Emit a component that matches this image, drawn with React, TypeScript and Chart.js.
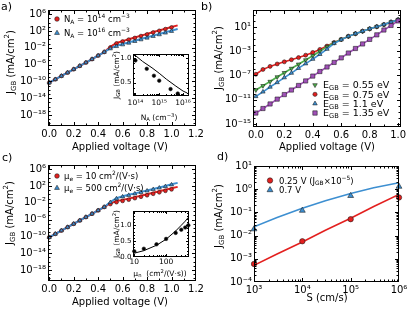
import React, { useEffect, useRef } from 'react';
import { Chart, registerables } from 'chart.js';

Chart.register(...registerables);

const FONT = '"DejaVu Sans", sans-serif';
const PAGE_W = 407;
const PAGE_H = 309;

const RED = '#e3201f';
const BLUE = '#3d8fd1';
const GREEN = '#4daf4a';
const PURPLE = '#a050b8';
const EDGE = 'rgba(25,25,25,0.8)';

// ---------------- data ----------------
// applied voltage (V) of the simulated points, and of the model lines
const voltage = [0, 0.05, 0.1, 0.15, 0.2, 0.25, 0.3, 0.35, 0.4, 0.45, 0.5, 0.55, 0.6, 0.65, 0.7, 0.75, 0.8, 0.85, 0.9, 0.95, 1.0];
const voltageLine = [0, 0.05, 0.1, 0.15, 0.2, 0.25, 0.3, 0.35, 0.4, 0.45, 0.5, 0.55, 0.6, 0.65, 0.7, 0.75, 0.8, 0.85, 0.9, 0.95, 1.0, 1.05];

// panel a: log10 of J_GB (mA/cm2)
const aNa14LineLog = [-10.3, -9.5, -8.7, -7.9, -7.1, -6.3, -5.5, -4.7, -3.85, -3.0, -1.75, -0.85, -0.4, 0.05, 0.45, 0.9, 1.3, 1.75, 2.15, 2.55, 2.95, 3.35];
const aNa16LineLog = [-10.3, -9.5, -8.7, -7.9, -7.1, -6.3, -5.5, -4.7, -3.85, -3.0, -2.1, -1.5, -1.1, -0.7, -0.3, 0.1, 0.5, 0.9, 1.3, 1.7, 2.1, 2.5];
const aNa14PtsLog = [-10.3, -9.5, -8.7, -7.9, -7.1, -6.3, -5.5, -4.7, -3.85, -3.0, -1.9, -0.95, -0.5, -0.05, 0.35, 0.8, 1.2, 1.65, 2.05, 2.45, 2.85];
const aNa16PtsLog = [-10.3, -9.5, -8.7, -7.9, -7.1, -6.3, -5.5, -4.7, -3.85, -3.0, -2.2, -1.65, -1.25, -0.85, -0.45, -0.05, 0.35, 0.75, 1.15, 1.55, 1.95];

// panel a inset
const aInsetNa = [1e14, 3e14, 6e14, 1e15, 3e15, 6e15];
const aInsetJ = [0.95, 0.78, 0.64, 0.54, 0.37, 0.28];
const aInsetCurveNa = [1e14, 2e14, 5e14, 1e15, 2e15, 5e15, 1e16, 1.5e16];
const aInsetCurveJ = [1.05, 0.93, 0.8, 0.69, 0.57, 0.43, 0.33, 0.29];

// panel b: log10 of J_GB (mA/cm2)
const bE055Log = [-9.4, -8.7, -8.0, -7.25, -6.55, -5.85, -5.15, -4.45, -3.75, -3.0, -2.25, -1.6, -1.05, -0.55, -0.1, 0.3, 0.7, 1.05, 1.4, 1.8, 2.2];
const bE075Log = [-6.8, -6.0, -5.5, -5.1, -4.75, -4.4, -4.05, -3.65, -3.2, -2.7, -2.15, -1.55, -1.05, -0.55, -0.1, 0.3, 0.7, 1.05, 1.4, 1.8, 2.2];
const bE110Log = [-10.45, -9.7, -8.9, -8.15, -7.35, -6.6, -5.8, -5.05, -4.3, -3.5, -2.65, -1.7, -1.1, -0.55, -0.1, 0.3, 0.7, 1.05, 1.4, 1.8, 2.2];
const bE135Log = [-13.2, -12.45, -11.7, -10.9, -10.15, -9.4, -8.65, -7.9, -7.1, -6.35, -5.6, -4.85, -4.1, -3.3, -2.55, -1.8, -1.05, -0.3, 0.5, 1.25, 2.0];

// panel c: log10 of J_GB (mA/cm2)
const cMu500LineLog = [-10.2, -9.4, -8.6, -7.8, -7.0, -6.2, -5.4, -4.6, -3.8, -3.0, -1.8, -0.9, -0.45, -0.1, 0.25, 0.6, 0.95, 1.3, 1.65, 2.0, 2.4, 2.75];
const cMu10LineLog = [-10.2, -9.4, -8.6, -7.8, -7.0, -6.2, -5.4, -4.6, -3.8, -3.0, -2.1, -1.6, -1.3, -1.0, -0.65, -0.3, 0.05, 0.4, 0.75, 1.1, 1.45, 1.8];
const cMu500PtsLog = [-10.2, -9.4, -8.6, -7.8, -7.0, -6.2, -5.4, -4.6, -3.8, -3.0, -1.9, -1.0, -0.55, -0.2, 0.15, 0.5, 0.85, 1.2, 1.55, 1.9, 2.3];
const cMu10PtsLog = [-10.2, -9.4, -8.6, -7.8, -7.0, -6.2, -5.4, -4.6, -3.8, -3.0, -2.3, -1.85, -1.55, -1.25, -0.9, -0.55, -0.2, 0.15, 0.5, 0.85, 1.2];

// panel c inset
const cInsetMu = [10, 20, 50, 100, 200, 300, 400, 500];
const cInsetJ = [0.18, 0.26, 0.4, 0.57, 0.76, 0.86, 0.93, 1.0];
const cInsetCurveMu = [10, 20, 50, 100, 200, 300, 400, 500];
const cInsetCurveJ = [0.12, 0.2, 0.37, 0.56, 0.82, 1.0, 1.13, 1.25];

// panel d
const dS = [1e3, 1e4, 1e5, 1e6];
const dJ025 = [6e-4, 5.7e-3, 0.051, 0.44];
const dJ070 = [0.019, 0.12, 0.52, 1.3];
const dLineS = [1e3, 3e3, 1e4, 3e4, 1e5, 3e5, 1e6];
const dLine025 = [5.2e-4, 1.6e-3, 5.3e-3, 1.7e-2, 5.6e-2, 0.18, 0.6];
const dLine070 = [0.024, 0.06, 0.15, 0.32, 0.65, 1.15, 1.9];

// tick labels
const vTicks12 = [0, 0.2, 0.4, 0.6, 0.8, 1.0, 1.2];
const vTicks10 = [0, 0.2, 0.4, 0.6, 0.8, 1.0];
const vMinor12 = [0.1, 0.3, 0.5, 0.7, 0.9, 1.1];
const vMinor10 = [0.1, 0.3, 0.5, 0.7, 0.9];
const acYTicks = [1e6, 1e2, 1e-2, 1e-6, 1e-10, 1e-14, 1e-18];
const bYTicks = [1e1, 1e-3, 1e-7, 1e-11, 1e-15];
const dXTicks = [1e3, 1e4, 1e5, 1e6];
const dYTicks = [1e-4, 1e-3, 1e-2, 1e-1, 1e0, 1e1];
const aInsetXTicks = [1e14, 1e15, 1e16];
const aInsetYTicks = [0.5, 1.0];
const cInsetXTicks = [10, 100];
const cInsetYTicks = [0, 0.5, 1.0];

// ---------------- helpers ----------------
const SUP: Record<string, string> = { '0': '⁰', '1': '¹', '2': '²', '3': '³', '4': '⁴', '5': '⁵', '6': '⁶', '7': '⁷', '8': '⁸', '9': '⁹', '-': '⁻' };
const fmtPow = (v: number) => '10' + String(Math.round(Math.log10(v))).split('').map((c) => SUP[c]).join('');
const fmt1 = (v: number) => v.toFixed(1);
const fmtInt = (v: number) => String(Math.round(v));

const fromLog = (a: number[]) => a.map((v) => Math.pow(10, v));
const pts = (xs: number[], ys: number[]) => xs.map((x, i) => ({ x, y: ys[i] }));

function decadesExcept(from: number, to: number, skip: number[]) {
  const out: number[] = [];
  for (let k = from; k <= to; k++) {
    const v = Math.pow(10, k);
    if (!skip.some((s) => Math.abs(Math.log10(s) - k) < 1e-6)) out.push(v);
  }
  return out;
}
function logMinor(from: number, to: number) {
  const out: number[] = [];
  for (let k = from; k < to; k++) for (let m = 2; m <= 9; m++) out.push(m * Math.pow(10, k));
  return out;
}
function linMinor(from: number, to: number, step: number, skip: number[]) {
  const out: number[] = [];
  for (let i = 0; from + i * step <= to + 1e-9; i++) {
    const v = +(from + i * step).toFixed(4);
    if (!skip.some((s) => Math.abs(s - v) < 1e-6)) out.push(v);
  }
  return out;
}

type Seg = [string, string?];

function drawRich(ctx: CanvasRenderingContext2D, segs: Seg[], x: number, y: number, size: number, align: 'left' | 'center' = 'center', rotate = false) {
  ctx.save();
  ctx.translate(x, y);
  if (rotate) ctx.rotate(-Math.PI / 2);
  const parts = segs.map(([t, k]) => {
    const s = k ? size * 0.7 : size;
    ctx.font = `${s}px ${FONT}`;
    return { t, k, s, w: ctx.measureText(t).width };
  });
  const total = parts.reduce((a, p) => a + p.w, 0);
  let cx = align === 'left' ? 0 : -total / 2;
  ctx.fillStyle = '#000';
  ctx.textAlign = 'left';
  ctx.textBaseline = 'alphabetic';
  const base = size * 0.36;
  for (const p of parts) {
    ctx.font = `${p.s}px ${FONT}`;
    const dy = p.k === 'sup' ? -size * 0.42 : p.k === 'sub' ? size * 0.2 : 0;
    ctx.fillText(p.t, cx, base + dy);
    cx += p.w;
  }
  ctx.restore();
}

function drawMarker(ctx: CanvasRenderingContext2D, style: string, x: number, y: number, r: number, color: string) {
  ctx.save();
  ctx.beginPath();
  if (style === 'circle') {
    ctx.arc(x, y, r, 0, Math.PI * 2);
  } else if (style === 'rect') {
    const s = r * Math.SQRT1_2;
    ctx.rect(x - s, y - s, 2 * s, 2 * s);
  } else {
    const down = style === 'triangleDown';
    for (let i = 0; i < 3; i++) {
      const a = (down ? Math.PI / 2 : -Math.PI / 2) + (i * 2 * Math.PI) / 3;
      const px = x + r * Math.cos(a);
      const py = y + r * Math.sin(a);
      if (i === 0) ctx.moveTo(px, py);
      else ctx.lineTo(px, py);
    }
    ctx.closePath();
  }
  ctx.fillStyle = color;
  ctx.fill();
  ctx.strokeStyle = EDGE;
  ctx.lineWidth = 0.7;
  ctx.stroke();
  ctx.restore();
}

type AxisSpec = {
  type: 'linear' | 'logarithmic';
  min: number;
  max: number;
  ticks: number[];
  minor: number[];
  fmt: (v: number) => string;
  pad: number;
  size: number;
};
type Title = { segs: Seg[]; x: number; y: number; size: number; rotate?: boolean; align?: 'left' | 'center' };
type LegendItem = { style: string; color: string; r: number; x: number; y: number; tx: number; segs: Seg[]; size: number };
type Deco = { titles: Title[]; legend: LegendItem[]; fill?: boolean; tickLen: [number, number] };

const YW = 40;
const XH = 20;

function axisOptions(spec: AxisSpec, dir: 'x' | 'y') {
  return {
    type: spec.type,
    min: spec.min,
    max: spec.max,
    position: dir === 'x' ? 'bottom' : 'left',
    grid: { display: false, drawTicks: false },
    border: { display: false },
    ticks: {
      autoSkip: false,
      maxRotation: 0,
      minRotation: 0,
      padding: spec.pad,
      color: '#000',
      font: { family: FONT, size: spec.size },
      callback: (v: any) => spec.fmt(Number(v)),
    },
    afterBuildTicks: (s: any) => {
      s.ticks = spec.ticks.map((v) => ({ value: v }));
    },
    afterFit: (s: any) => {
      if (dir === 'x') {
        s.height = XH;
        s.paddingLeft = 0;
        s.paddingRight = 0;
      } else {
        s.width = YW;
        s.paddingTop = 0;
        s.paddingBottom = 0;
      }
    },
  };
}

function decoPlugin(xs: AxisSpec, ys: AxisSpec, deco: Deco) {
  return {
    id: 'deco',
    beforeDraw(chart: any) {
      if (!deco.fill) return;
      const a = chart.chartArea;
      const ctx = chart.ctx;
      ctx.save();
      ctx.fillStyle = '#fff';
      ctx.fillRect(a.left, a.top, a.right - a.left, a.bottom - a.top);
      ctx.restore();
    },
    afterDraw(chart: any) {
      const ctx: CanvasRenderingContext2D = chart.ctx;
      const a = chart.chartArea;
      const sx = chart.scales.x;
      const sy = chart.scales.y;
      ctx.save();
      ctx.strokeStyle = '#000';
      ctx.lineWidth = 1;
      const L = Math.round(a.left) + 0.5;
      const T = Math.round(a.top) + 0.5;
      const R = Math.round(a.right) - 0.5;
      const B = Math.round(a.bottom) - 0.5;
      ctx.strokeRect(L, T, R - L, B - T);
      const [majLen, minLen] = deco.tickLen;
      ctx.beginPath();
      const xTick = (v: number, len: number) => {
        const p = Math.round(sx.getPixelForValue(v)) + 0.5;
        if (p < L - 0.1 || p > R + 0.1) return;
        ctx.moveTo(p, B);
        ctx.lineTo(p, B - len);
        ctx.moveTo(p, T);
        ctx.lineTo(p, T + len);
      };
      const yTick = (v: number, len: number) => {
        const p = Math.round(sy.getPixelForValue(v)) + 0.5;
        if (p < T - 0.1 || p > B + 0.1) return;
        ctx.moveTo(L, p);
        ctx.lineTo(L + len, p);
        ctx.moveTo(R, p);
        ctx.lineTo(R - len, p);
      };
      xs.ticks.forEach((v) => xTick(v, majLen));
      xs.minor.forEach((v) => xTick(v, minLen));
      ys.ticks.forEach((v) => yTick(v, majLen));
      ys.minor.forEach((v) => yTick(v, minLen));
      ctx.stroke();
      ctx.restore();
      deco.titles.forEach((t) => drawRich(ctx, t.segs, t.x, t.y, t.size, t.align || 'center', !!t.rotate));
      deco.legend.forEach((it) => {
        drawMarker(ctx, it.style, it.x, it.y, it.r, it.color);
        drawRich(ctx, it.segs, it.tx, it.y, it.size, 'left');
      });
    },
  };
}

function build(canvas: HTMLCanvasElement, area: [number, number, number, number], xs: AxisSpec, ys: AxisSpec, datasets: any[], deco: Deco) {
  const [L, T, R, B] = area;
  return new Chart(canvas, {
    type: 'scatter',
    data: { datasets },
    options: {
      animation: false,
      responsive: false,
      devicePixelRatio: 1,
      events: [],
      layout: { padding: { left: L - YW, top: T, right: PAGE_W - R, bottom: PAGE_H - B - XH } },
      plugins: { legend: { display: false }, tooltip: { enabled: false } },
      scales: { x: axisOptions(xs, 'x'), y: axisOptions(ys, 'y') } as any,
    },
    plugins: [decoPlugin(xs, ys, deco)],
  } as any);
}

const lineDs = (data: any[], color: string, width: number) => ({
  data,
  showLine: true,
  borderColor: color,
  borderWidth: width,
  pointRadius: 0,
  fill: false,
  tension: 0,
});
const markDs = (data: any[], color: string, style: string, r: number, rotation = 0) => ({
  data,
  showLine: false,
  pointStyle: style,
  pointRotation: rotation,
  pointRadius: r,
  pointBackgroundColor: color,
  pointBorderColor: EDGE,
  pointBorderWidth: 0.7,
  clip: false,
});
const lineMarkDs = (data: any[], color: string, style: string, r: number, rotation = 0) => ({
  ...markDs(data, color, style, r, rotation),
  showLine: true,
  borderColor: color,
  borderWidth: 1.6,
  clip: 3,
});

const yTitle: Seg[] = [['J'], ['GB', 'sub'], [' (mA/cm'], ['2', 'sup'], [')']];
const vTitle: Seg[] = [['Applied voltage (V)']];

const acX: AxisSpec = { type: 'linear', min: -0.01, max: 1.2, ticks: vTicks12, minor: vMinor12, fmt: fmt1, pad: 2, size: 10 };
const acY: AxisSpec = { type: 'logarithmic', min: Math.pow(10, -20.6), max: 1e7, ticks: acYTicks, minor: decadesExcept(-20, 6, acYTicks), fmt: fmtPow, pad: 2, size: 10 };

function chartA(cv: HTMLCanvasElement) {
  return build(cv, [48, 10, 196, 126], acX, acY, [
    markDs(pts(voltage, fromLog(aNa16PtsLog)), BLUE, 'triangle', 2.4),
    markDs(pts(voltage, fromLog(aNa14PtsLog)), RED, 'circle', 1.9),
    lineDs(pts(voltageLine, fromLog(aNa16LineLog)), BLUE, 2),
    lineDs(pts(voltageLine, fromLog(aNa14LineLog)), RED, 2),
  ], {
    tickLen: [3.5, 2],
    titles: [
      { segs: vTitle, x: 120, y: 146, size: 10 },
      { segs: yTitle, x: 10, y: 62, size: 10, rotate: true },
      { segs: [['a)']], x: 1, y: 6, size: 11, align: 'left' },
    ],
    legend: [
      { style: 'circle', color: RED, r: 2.3, x: 57, y: 19, tx: 64, size: 8.5, segs: [['N'], ['A', 'sub'], [' = 10'], ['14', 'sup'], [' cm'], ['−3', 'sup']] },
      { style: 'triangle', color: BLUE, r: 2.8, x: 57, y: 33, tx: 64, size: 8.5, segs: [['N'], ['A', 'sub'], [' = 10'], ['16', 'sup'], [' cm'], ['−3', 'sup']] },
    ],
  });
}

function chartAInset(cv: HTMLCanvasElement) {
  const xs: AxisSpec = { type: 'logarithmic', min: Math.pow(10, 13.9), max: Math.pow(10, 16.25), ticks: aInsetXTicks, minor: logMinor(13, 16), fmt: fmtPow, pad: 3, size: 7.5 };
  const ys: AxisSpec = { type: 'linear', min: 0.23, max: 1.08, ticks: aInsetYTicks, minor: linMinor(0.3, 1.0, 0.1, aInsetYTicks), fmt: fmt1, pad: 1.5, size: 7 };
  return build(cv, [133, 54, 189, 96], xs, ys, [
    markDs(pts(aInsetNa, aInsetJ), '#000', 'circle', 1.8),
    lineDs(pts(aInsetCurveNa, aInsetCurveJ), '#000', 1),
  ], {
    fill: true,
    tickLen: [2.5, 1.5],
    titles: [
      { segs: yTitle, x: 116, y: 75, size: 7.5, rotate: true },
      { segs: [['N'], ['A', 'sub'], [' (cm'], ['−3', 'sup'], [')']], x: 159, y: 117, size: 7.5 },
    ],
    legend: [],
  });
}

function chartB(cv: HTMLCanvasElement) {
  const xs: AxisSpec = { type: 'linear', min: -0.02, max: 1.02, ticks: vTicks10, minor: vMinor10, fmt: fmt1, pad: 2, size: 10 };
  const ys: AxisSpec = { type: 'logarithmic', min: Math.pow(10, -15.5), max: Math.pow(10, 3.8), ticks: bYTicks, minor: decadesExcept(-15, 3, bYTicks), fmt: fmtPow, pad: 2, size: 10 };
  return build(cv, [253, 10, 401, 127], xs, ys, [
    lineMarkDs(pts(voltage, fromLog(bE135Log)), PURPLE, 'rect', 3.0),
    lineMarkDs(pts(voltage, fromLog(bE110Log)), BLUE, 'triangle', 2.5),
    lineMarkDs(pts(voltage, fromLog(bE055Log)), GREEN, 'triangle', 2.5, 180),
    lineMarkDs(pts(voltage, fromLog(bE075Log)), RED, 'circle', 2.0),
  ], {
    tickLen: [3.5, 2],
    titles: [
      { segs: vTitle, x: 327, y: 146, size: 10 },
      { segs: yTitle, x: 218, y: 58, size: 10, rotate: true },
      { segs: [['b)']], x: 201, y: 6, size: 11, align: 'left' },
    ],
    legend: [
      { style: 'triangleDown', color: GREEN, r: 2.6, x: 315, y: 85, tx: 323, size: 9.5, segs: [['E'], ['GB', 'sub'], [' = 0.55 eV']] },
      { style: 'circle', color: RED, r: 2.1, x: 315, y: 94.3, tx: 323, size: 9.5, segs: [['E'], ['GB', 'sub'], [' = 0.75 eV']] },
      { style: 'triangle', color: BLUE, r: 2.6, x: 315, y: 103.6, tx: 323, size: 9.5, segs: [['E'], ['GB', 'sub'], [' = 1.1 eV']] },
      { style: 'rect', color: PURPLE, r: 3.1, x: 315, y: 113, tx: 323, size: 9.5, segs: [['E'], ['GB', 'sub'], [' = 1.35 eV']] },
    ],
  });
}

function chartC(cv: HTMLCanvasElement) {
  return build(cv, [48, 165, 196, 281], acX, acY, [
    markDs(pts(voltage, fromLog(cMu500PtsLog)), BLUE, 'triangle', 2.4),
    markDs(pts(voltage, fromLog(cMu10PtsLog)), RED, 'circle', 1.9),
    lineDs(pts(voltageLine, fromLog(cMu500LineLog)), BLUE, 2),
    lineDs(pts(voltageLine, fromLog(cMu10LineLog)), RED, 2),
  ], {
    tickLen: [3.5, 2],
    titles: [
      { segs: vTitle, x: 120, y: 301, size: 10 },
      { segs: yTitle, x: 9, y: 213, size: 10, rotate: true },
      { segs: [['c)']], x: 2, y: 157, size: 11, align: 'left' },
    ],
    legend: [
      { style: 'circle', color: RED, r: 2.3, x: 57, y: 176, tx: 64, size: 8.5, segs: [['μ'], ['e', 'sub'], [' = 10 cm'], ['2', 'sup'], ['/(V·s)']] },
      { style: 'triangle', color: BLUE, r: 2.8, x: 57, y: 188, tx: 64, size: 8.5, segs: [['μ'], ['e', 'sub'], [' = 500 cm'], ['2', 'sup'], ['/(V·s)']] },
    ],
  });
}

function chartCInset(cv: HTMLCanvasElement) {
  const xs: AxisSpec = { type: 'logarithmic', min: Math.pow(10, 0.96), max: Math.pow(10, 2.72), ticks: cInsetXTicks, minor: logMinor(0, 3), fmt: fmtInt, pad: 1, size: 7.5 };
  const ys: AxisSpec = { type: 'linear', min: 0, max: 1.45, ticks: cInsetYTicks, minor: linMinor(0.1, 1.4, 0.1, cInsetYTicks), fmt: fmt1, pad: 1.5, size: 7 };
  return build(cv, [133, 211, 189, 257], xs, ys, [
    markDs(pts(cInsetMu, cInsetJ), '#000', 'circle', 1.8),
    lineDs(pts(cInsetCurveMu, cInsetCurveJ), '#000', 1),
  ], {
    fill: true,
    tickLen: [2.5, 1.5],
    titles: [
      { segs: yTitle, x: 116, y: 234, size: 7.5, rotate: true },
      { segs: [['μ'], ['n', 'sub'], ['  (cm'], ['2', 'sup'], ['/(V·s))']], x: 160, y: 273, size: 7.5 },
    ],
    legend: [],
  });
}

function chartD(cv: HTMLCanvasElement) {
  const xs: AxisSpec = { type: 'logarithmic', min: 1e3, max: 1e6, ticks: dXTicks, minor: logMinor(3, 6), fmt: fmtPow, pad: 2, size: 10 };
  const ys: AxisSpec = { type: 'logarithmic', min: 1e-4, max: 1e1, ticks: dYTicks, minor: logMinor(-4, 1), fmt: fmtPow, pad: 2, size: 10 };
  return build(cv, [254, 166, 399, 282], xs, ys, [
    markDs(pts(dS, dJ070), BLUE, 'triangle', 3.4),
    markDs(pts(dS, dJ025), RED, 'circle', 2.7),
    lineDs(pts(dLineS, dLine070), BLUE, 1.6),
    lineDs(pts(dLineS, dLine025), RED, 1.6),
  ], {
    tickLen: [3.5, 2],
    titles: [
      { segs: [['S (cm/s)']], x: 327, y: 297, size: 10 },
      { segs: yTitle, x: 218, y: 216, size: 10, rotate: true },
      { segs: [['d)']], x: 217, y: 156, size: 11, align: 'left' },
    ],
    legend: [
      { style: 'circle', color: RED, r: 2.7, x: 270, y: 180.5, tx: 279, size: 8.5, segs: [['0.25 V (J'], ['GB', 'sub'], ['×10'], ['−5', 'sup'], [')']] },
      { style: 'triangle', color: BLUE, r: 3.4, x: 270, y: 190, tx: 279, size: 8.5, segs: [['0.7 V']] },
    ],
  });
}

export default function App() {
  const r0 = useRef<HTMLCanvasElement>(null);
  const r1 = useRef<HTMLCanvasElement>(null);
  const r2 = useRef<HTMLCanvasElement>(null);
  const r3 = useRef<HTMLCanvasElement>(null);
  const r4 = useRef<HTMLCanvasElement>(null);
  const r5 = useRef<HTMLCanvasElement>(null);
  const refs = [r0, r1, r2, r3, r4, r5];

  useEffect(() => {
    const makers = [chartA, chartAInset, chartB, chartC, chartCInset, chartD];
    const charts = makers.map((m, i) => m(refs[i].current as HTMLCanvasElement));
    return () => charts.forEach((c) => c.destroy());
  }, []);

  return (
    <div style={{ position: 'absolute', left: 0, top: 0, width: PAGE_W, height: PAGE_H, background: '#fff', overflow: 'hidden' }}>
      {refs.map((r, i) => (
        <canvas
          key={i}
          ref={r}
          width={PAGE_W}
          height={PAGE_H}
          style={{ position: 'absolute', left: 0, top: 0, width: PAGE_W, height: PAGE_H }}
        />
      ))}
    </div>
  );
}
